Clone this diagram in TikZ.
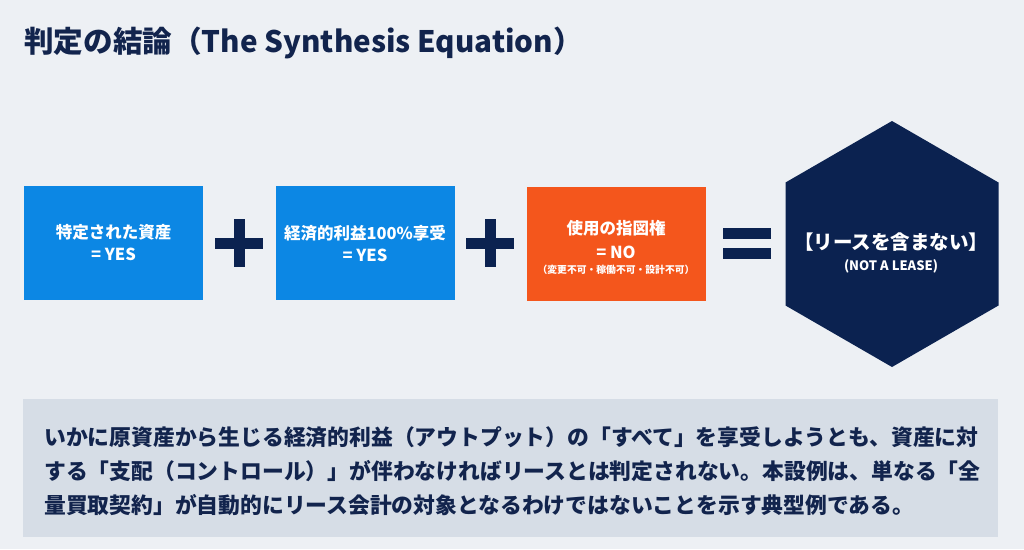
\documentclass[tikz,border=0pt]{standalone}
\usepackage{fontspec}
\setmainfont{Noto Sans CJK JP}
\definecolor{bgc}{HTML}{EDF0F4}
\definecolor{bluec}{HTML}{0C87E4}
\definecolor{orangec}{HTML}{F4561C}
\definecolor{navyc}{HTML}{0B2250}
\definecolor{panelc}{HTML}{D6DDE6}
\definecolor{textc}{HTML}{12244D}
\tikzset{
  box/.style={minimum width=179pt, minimum height=114pt, inner sep=0pt, text=white, align=center, font=\bfseries\fontsize{16.5}{22}\selectfont},
  bluebox/.style={box, fill=bluec},
  orangebox/.style={box, fill=orangec},
  whitetext/.style={text=white, inner sep=0pt, font=\bfseries\fontsize{16.5}{22}\selectfont},
  symb/.style={fill=navyc, draw=none},
}
\begin{document}
\begin{tikzpicture}[x=1pt,y=-1pt]
\useasboundingbox (0,0) rectangle (1024,549);
\fill[bgc] (0,0) rectangle (1024,549);
% title
\node[anchor=west, inner sep=0pt, text=textc, font=\bfseries\fontsize{29.6}{36}\selectfont] (title) at (24,43) {判定の結論（The Synthesis Equation）};
% boxes
\node[bluebox] (b1) at (113.5,243) {特定された資産\\= YES};
\node[bluebox] (b2) at (365,243) {経済的利益100\%享受\\= YES};
\node[orangebox] (b3) at (616,244) {};
\node[whitetext] (b3a) at (616,228) {使用の指図権};
\node[whitetext] (b3b) at (616,252) {= NO};
\node[whitetext, font=\bfseries\fontsize{9.8}{12}\selectfont] (b3c) at (616,270) {（変更不可・稼働不可・設計不可）};
% plus signs
\fill[symb] (215,237.5) rectangle (263,248.5);
\fill[symb] (233.5,219) rectangle (244.5,267);
\fill[symb] (466,237.5) rectangle (514,248.5);
\fill[symb] (484.5,219) rectangle (495.5,267);
% equals
\fill[symb] (723,228) rectangle (771,239);
\fill[symb] (723,248) rectangle (771,259);
% hexagon
\fill[navyc] (892,121) -- (998.5,182.5) -- (998.5,305.5) -- (892,367) -- (785.5,305.5) -- (785.5,182.5) -- cycle;
\node[whitetext, font=\bfseries\fontsize{19.5}{22}\selectfont] (h1) at (891,242) {【リースを含まない】};
\node[whitetext, font=\bfseries\fontsize{13}{15}\selectfont] (h2) at (891,266) {(NOT A LEASE)};
% panel
\fill[panelc] (23,399) rectangle (998,537);
\node[anchor=west, inner sep=0pt, align=left, text=textc, font=\bfseries\fontsize{21.8}{34}\selectfont] (ptext) at (44,471) {いかに原資産から生じる経済的利益（アウトプット）の「すべて」を享受しようとも、資産に対\\する「支配（コントロール）」が伴わなければリースとは判定されない。本設例は、単なる「全\\量買取契約」が自動的にリース会計の対象となるわけではないことを示す典型例である。};
\end{tikzpicture}
\end{document}
